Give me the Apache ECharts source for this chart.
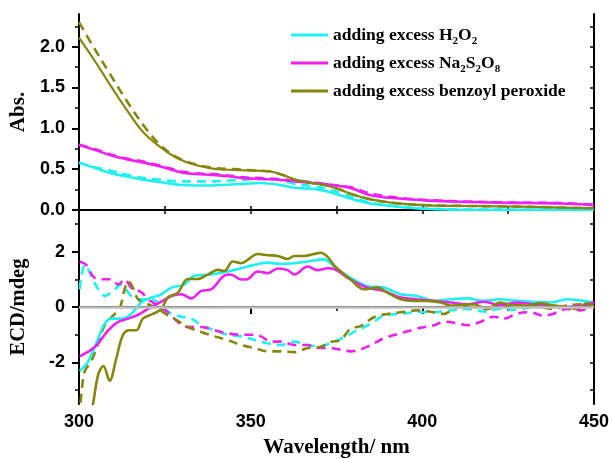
<!DOCTYPE html>
<html>
<head>
<meta charset="utf-8">
<script src="https://cdn.jsdelivr.net/npm/echarts@6/dist/echarts.min.js"></script>
<style>html,body{margin:0;padding:0;background:#fff;}#c{width:613px;height:459px;}</style>
</head>
<body>
<div id="c"></div>
<script>
// ---------- DATA ----------
const legendNames = ['adding excess H2O2', 'adding excess Na2S2O8', 'adding excess benzoyl peroxide'];
const xTicks = [300, 350, 400, 450];
const absTickLabels = [0, 0.5, 1.0, 1.5, 2.0];
const ecdTickLabels = [-2, 0, 2];

// Top panel: absorbance
const absWl_H2O2 = [300, 305, 309.4, 314, 319, 324, 329, 334, 339, 343, 348, 353, 358, 363, 368, 372, 376, 379, 385, 393, 400, 410, 425, 450];
const absH2O2 = [0.58, 0.51, 0.45, 0.41, 0.37, 0.34, 0.31, 0.30, 0.30, 0.31, 0.32, 0.33, 0.31, 0.27, 0.26, 0.23, 0.18, 0.14, 0.08, 0.04, 0.016, 0.005, 0.002, 0.0];
const absWl_H2O2d = [300, 305, 309.4, 314, 319, 324, 329, 334, 339, 343, 348, 353, 358, 363, 368, 372, 376, 380, 385, 393, 400, 410, 430, 450];
const absH2O2d = [0.58, 0.52, 0.48, 0.43, 0.39, 0.37, 0.35, 0.35, 0.35, 0.36, 0.37, 0.38, 0.37, 0.32, 0.29, 0.26, 0.21, 0.15, 0.09, 0.045, 0.02, 0.008, 0.003, 0.0];
const absWl_Na = [300, 305, 310, 314, 319, 324, 330, 334, 339, 344, 348, 353, 358, 363, 368, 373, 379, 385, 393, 402, 412, 422, 431, 440, 450];
const absNa = [0.80, 0.73, 0.66, 0.62, 0.58, 0.53, 0.46, 0.44, 0.43, 0.41, 0.39, 0.38, 0.37, 0.35, 0.33, 0.31, 0.27, 0.18, 0.14, 0.115, 0.10, 0.09, 0.085, 0.08, 0.06];
const absNad = [0.80, 0.74, 0.67, 0.63, 0.59, 0.54, 0.47, 0.45, 0.44, 0.42, 0.40, 0.39, 0.38, 0.36, 0.34, 0.31, 0.28, 0.20, 0.15, 0.12, 0.105, 0.095, 0.09, 0.085, 0.065];
const absWl_BP = [300, 305, 309.4, 314, 319, 326, 331, 338.5, 345, 353, 356, 360, 363, 368, 372, 376, 379, 385, 393, 402, 412, 422, 435, 450];
const absBP = [2.11, 1.80, 1.51, 1.22, 0.94, 0.70, 0.59, 0.51, 0.49, 0.48, 0.47, 0.42, 0.37, 0.33, 0.30, 0.25, 0.20, 0.13, 0.08, 0.057, 0.05, 0.045, 0.035, 0.02];
const absWl_BPd = [300, 304.6, 309.4, 314.3, 319.1, 324, 329, 333, 338.5, 345, 353, 356, 360, 363, 368, 372, 376, 379, 385, 393, 402, 412, 422, 435, 450];
const absBPd = [2.30, 1.97, 1.64, 1.31, 1.02, 0.78, 0.635, 0.57, 0.52, 0.50, 0.48, 0.47, 0.42, 0.37, 0.33, 0.30, 0.25, 0.20, 0.13, 0.08, 0.057, 0.05, 0.045, 0.035, 0.02];

// Bottom panel: ECD
const ecdWl_H2O2 = [300.2, 302.7, 305.6, 307.5, 309.4, 312.3, 315.2, 318.2, 321.1, 324, 326.9, 330.7, 333.6, 338.5, 343.3, 347.2, 351.1, 355, 358.8, 362.7, 366.6, 371.4, 374.3, 379.1, 384, 388.8, 393.7, 398.5, 403.4, 408.3, 413.1, 418, 422.7, 427.6, 432.4, 437.3, 442.1, 447, 450];
const ecdH2O2 = [-2.31, -1.95, -1.13, -0.60, -0.42, -0.42, -0.25, 0.17, 0.34, 0.46, 0.70, 0.81, 1.13, 1.17, 1.28, 1.40, 1.52, 1.60, 1.55, 1.58, 1.64, 1.72, 1.46, 1.05, 0.75, 0.70, 0.46, 0.40, 0.22, 0.28, 0.31, 0.22, 0.28, 0.22, 0.19, 0.16, 0.28, 0.22, 0.16];
const ecdWl_H2O2d = [300.2, 300.7, 301.7, 303.6, 305.6, 307.5, 310.4, 312.3, 315.2, 318.2, 321.1, 324, 326.9, 329.8, 332.7, 335.6, 339.5, 343.3, 347.2, 351.1, 355, 358.8, 362.7, 366.6, 370.4, 373, 376.2, 380.1, 385, 388.8, 393.7, 398.5, 403.4, 408.3, 413.1, 418, 422.7, 427.6, 432.4, 437.3, 442.1, 447, 450];
const ecdH2O2d = [0.64, 1.11, 1.52, 1.11, 0.64, 0.40, 0.64, 0.81, 0.40, 0.28, 0.28, 0.05, -0.25, -0.35, -0.42, -0.65, -0.84, -1.00, -1.06, -1.19, -1.31, -1.37, -1.25, -1.37, -1.43, -1.31, -1.15, -0.90, -0.60, -0.31, -0.25, -0.19, -0.19, -0.12, -0.07, -0.16, -0.07, -0.10, 0.0, 0.03, 0.0, 0.07, 0.05];
const ecdWl_Na = [300.2, 303.6, 305.6, 308.5, 311.4, 314.3, 317.2, 320.1, 324, 326.9, 329.8, 332.7, 335.6, 338.5, 342.3, 344.2, 347.2, 349, 352, 355, 357.9, 360.8, 362.7, 366.6, 369.5, 372.4, 374.3, 379.1, 384, 388.8, 393.7, 398.5, 403.4, 408.3, 413.1, 418, 422.7, 427.6, 432.4, 437.3, 442.1, 447, 450];
const ecdNa = [-1.78, -1.54, -1.31, -0.84, -0.54, -0.42, -0.28, -0.07, 0.19, 0.40, 0.46, 0.31, 0.58, 0.64, 1.13, 1.17, 0.99, 1.00, 1.28, 1.22, 1.39, 1.33, 1.17, 1.46, 1.33, 1.40, 1.37, 0.99, 0.70, 0.58, 0.34, 0.28, 0.22, 0.16, 0.10, 0.19, 0.07, 0.16, 0.10, 0.05, 0.0, 0.05, 0.19];
const ecdWl_Nad = [300.2, 302.1, 304.6, 307.5, 309.4, 311.4, 313.3, 315.2, 318.2, 320.1, 323, 325.9, 328.8, 331.7, 335.6, 339.5, 343.3, 347.2, 350.1, 353, 355.9, 358.8, 362.7, 366.6, 369.5, 372.4, 376.2, 379.1, 384, 388.8, 393.7, 398.5, 403.4, 406.3, 410.2, 413.1, 417, 420.8, 423.7, 427.6, 431.4, 435.3, 438.2, 442.1, 446, 450];
const ecdNad = [1.64, 1.52, 1.05, 1.0, 1.0, 0.81, 1.0, 0.70, 0.53, 0.28, 0.05, -0.19, -0.54, -0.72, -0.72, -0.84, -0.95, -1.0, -1.0, -1.06, -1.25, -1.25, -1.37, -1.37, -1.48, -1.48, -1.54, -1.60, -1.43, -1.13, -0.95, -0.78, -0.66, -0.53, -0.59, -0.66, -0.53, -0.35, -0.42, -0.24, -0.19, -0.31, -0.24, -0.07, -0.12, 0.05];
const ecdWl_BP = [300, 302, 304.1, 305.6, 307.1, 308.9, 310.9, 312.8, 314.8, 316.7, 318.6, 321.5, 324, 325.9, 328.8, 331.7, 334.6, 337.5, 340.4, 342.3, 344.8, 347.2, 349.1, 352, 355, 357.9, 360.8, 362.7, 365.6, 368.5, 370.4, 372.4, 374.3, 376.2, 379.1, 383, 386.9, 389.8, 393.7, 397.6, 401.5, 405.4, 408.3, 411, 415, 418.8, 422.7, 426.6, 430.5, 434.3, 438.2, 442.1, 445, 447.9, 450];
const ecdBP = [-6.0, -4.8, -3.49, -2.43, -2.13, -2.66, -1.84, -1.01, -0.84, -0.84, -0.42, -0.25, -0.07, 0.34, 0.52, 1.01, 1.01, 1.17, 1.34, 1.30, 1.64, 1.58, 1.70, 1.91, 1.87, 1.84, 1.73, 1.84, 1.84, 1.91, 1.96, 1.81, 1.50, 1.28, 0.99, 0.64, 0.70, 0.52, 0.28, 0.22, 0.22, 0.16, 0.05, 0.07, 0.10, -0.07, 0.16, 0.05, 0.05, 0.13, 0.05, 0.0, -0.07, 0.13, 0.0];
const ecdWl_BPd = [300, 300.8, 301.7, 303.6, 305.6, 307.5, 309.4, 311.8, 313.3, 314.3, 315.5, 317.2, 320.1, 323, 325.9, 328.8, 331.7, 335.6, 339.5, 343.3, 347.2, 351.1, 355, 358.8, 362.7, 366.6, 370.4, 373.4, 375.8, 379.1, 382, 385.9, 389.8, 393.7, 398.5, 403.4, 406.3, 410.2, 415, 418.8, 422.7, 426.6, 430.5, 434.3, 438.2, 442.1, 446, 450];
const ecdBPd = [-4.0, -3.02, -2.31, -1.95, -1.31, -0.65, -0.37, -0.06, 0.64, 0.93, 0.75, 0.28, 0.10, -0.07, -0.30, -0.50, -0.72, -0.90, -1.06, -1.19, -1.37, -1.48, -1.60, -1.60, -1.63, -1.48, -1.43, -1.25, -1.22, -0.78, -0.69, -0.37, -0.25, -0.19, -0.12, -0.19, -0.25, 0.0, 0.0, -0.07, 0.05, 0.10, 0.05, 0.0, -0.07, 0.05, 0.10, 0.05];

// ---------- CHART ----------
const CYAN = '#1ff0f0', MAG = '#f020f0', OLIVE = '#86860c';
const pair = (xs, ys) => xs.map((x, i) => [x, ys[i]]);
const chart = echarts.init(document.getElementById('c'), null, {renderer: 'canvas'});

function line(name, xIdx, yIdx, xs, ys, color, dashed, w) {
  return {
    name: name, type: 'line', xAxisIndex: xIdx, yAxisIndex: yIdx,
    data: pair(xs, ys), showSymbol: false, symbol: 'none', smooth: 0.35,
    clip: true, silent: true, animation: false, z: dashed ? 3 : 4,
    lineStyle: {color: color, width: w || 2.6, type: dashed ? [9, 6] : 'solid'},
    itemStyle: {color: color}
  };
}

const serifB = {fontFamily: '"Liberation Serif", "Times New Roman", serif', fontWeight: 'bold', color: '#000'};
const sansB = {fontFamily: '"Liberation Sans", Arial, sans-serif', fontWeight: 'bold', color: '#000'};
const axLine = {show: true, lineStyle: {color: '#000', width: 2}};

const option = {
  backgroundColor: '#fff',
  animation: false,
  grid: [
    {left: 77, right: 19, top: 14, height: 196},
    {left: 77, right: 19, top: 210, height: 196}
  ],
  legend: {
    data: legendNames, orient: 'vertical', left: 291, top: 23, itemGap: 4, padding: 0,
    itemWidth: 37, itemHeight: 3, icon: 'rect',
    textStyle: Object.assign({fontSize: 17.5, lineHeight: 24, rich: {
      s: Object.assign({fontSize: 11, lineHeight: 11, padding: [13, 0, 0, 0], verticalAlign: 'bottom'}, serifB)
    }}, serifB),
    formatter: function (n) {
      if (n === legendNames[0]) return 'adding excess H{s|2}O{s|2}';
      if (n === legendNames[1]) return 'adding excess Na{s|2}S{s|2}O{s|8}';
      return n;
    }
  },
  xAxis: [
    {gridIndex: 0, type: 'value', min: 300, max: 450, interval: 25, position: 'bottom',
     axisLine: axLine, axisTick: {show: true, inside: true, length: 4, lineStyle: {color: '#000', width: 1.5}},
     axisLabel: {show: false}, splitLine: {show: false}},
    {gridIndex: 0, type: 'value', min: 300, max: 450, interval: 25, position: 'top',
     axisLine: axLine, axisTick: {show: true, inside: true, length: 4, lineStyle: {color: '#000', width: 1.5}},
     axisLabel: {show: false}, splitLine: {show: false}},
    {gridIndex: 1, type: 'value', min: 300, max: 450, interval: 50, position: 'bottom',
     axisLine: axLine, axisTick: {show: true, length: 7, lineStyle: {color: '#000', width: 2}},
     minorTick: {show: true, splitNumber: 2, length: 4, lineStyle: {color: '#000', width: 1.5}},
     axisLabel: Object.assign({fontSize: 18, margin: 9, customValues: xTicks}, sansB),
     splitLine: {show: false},
     name: 'Wavelength/ nm', nameLocation: 'middle', nameGap: 33,
     nameTextStyle: Object.assign({fontSize: 21}, serifB)}
  ],
  yAxis: [
    {gridIndex: 0, type: 'value', min: 0, max: 2.4, position: 'left',
     axisLine: axLine,
     axisTick: {show: true, length: 7, customValues: absTickLabels, lineStyle: {color: '#000', width: 2}},
     axisLabel: Object.assign({fontSize: 18, margin: 14, customValues: absTickLabels,
       formatter: v => v.toFixed(1)}, sansB),
     splitLine: {show: false},
     name: 'Abs.', nameLocation: 'middle', nameGap: 50, nameRotate: 90,
     nameTextStyle: Object.assign({fontSize: 21}, serifB)},
    {gridIndex: 0, type: 'value', min: 0, max: 2.4, position: 'left',
     axisLine: {show: false},
     axisTick: {show: true, length: 4, customValues: [0.25, 0.75, 1.25, 1.75, 2.25], lineStyle: {color: '#000', width: 1.5}},
     axisLabel: {show: false}, splitLine: {show: false}},
    {gridIndex: 0, type: 'value', min: 0, max: 2.4, position: 'right',
     axisLine: axLine,
     axisTick: {show: true, inside: true, length: 4, customValues: [0.25, 0.5, 0.75, 1, 1.25, 1.5, 1.75, 2, 2.25], lineStyle: {color: '#000', width: 1.5}},
     axisLabel: {show: false}, splitLine: {show: false}},
    {gridIndex: 1, type: 'value', min: -3.5, max: 3.5, position: 'left',
     axisLine: axLine,
     axisTick: {show: true, length: 7, customValues: ecdTickLabels, lineStyle: {color: '#000', width: 2}},
     axisLabel: Object.assign({fontSize: 18, margin: 14, customValues: ecdTickLabels}, sansB),
     splitLine: {show: false},
     name: 'ECD/mdeg', nameLocation: 'middle', nameGap: 50, nameRotate: 90,
     nameTextStyle: Object.assign({fontSize: 20.5}, serifB)},
    {gridIndex: 1, type: 'value', min: -3.5, max: 3.5, position: 'left',
     axisLine: {show: false},
     axisTick: {show: true, length: 4, customValues: [-3, -1, 1, 3], lineStyle: {color: '#000', width: 1.5}},
     axisLabel: {show: false}, splitLine: {show: false}},
    {gridIndex: 1, type: 'value', min: -3.5, max: 3.5, position: 'right',
     axisLine: axLine,
     axisTick: {show: true, inside: true, length: 4, customValues: [-3, -2, -1, 0, 1, 2, 3], lineStyle: {color: '#000', width: 1.5}},
     axisLabel: {show: false}, splitLine: {show: false}}
  ],
  series: [
    line('absH2O2d', 0, 0, absWl_H2O2d, absH2O2d, CYAN, true),
    line('absNad', 0, 0, absWl_Na, absNad, MAG, true),
    line('absBPd', 0, 0, absWl_BPd, absBPd, OLIVE, true),
    line(legendNames[0], 0, 0, absWl_H2O2, absH2O2, CYAN, false),
    line(legendNames[1], 0, 0, absWl_Na, absNa, MAG, false),
    line(legendNames[2], 0, 0, absWl_BP, absBP, OLIVE, false, 2.2),
    Object.assign(line('ecdH2O2d', 2, 3, ecdWl_H2O2d, ecdH2O2d, CYAN, true), {
      markLine: {silent: true, symbol: 'none', label: {show: false}, animation: false,
        lineStyle: {color: '#c0c0c0', width: 2.5, type: 'solid'}, data: [{yAxis: 0}]}
    }),
    line('ecdNad', 2, 3, ecdWl_Nad, ecdNad, MAG, true),
    line('ecdBPd', 2, 3, ecdWl_BPd, ecdBPd, OLIVE, true),
    line(legendNames[0], 2, 3, ecdWl_H2O2, ecdH2O2, CYAN, false),
    line(legendNames[1], 2, 3, ecdWl_Na, ecdNa, MAG, false),
    line(legendNames[2], 2, 3, ecdWl_BP, ecdBP, OLIVE, false)
  ]
};
chart.setOption(option);
</script>
</body>
</html>
